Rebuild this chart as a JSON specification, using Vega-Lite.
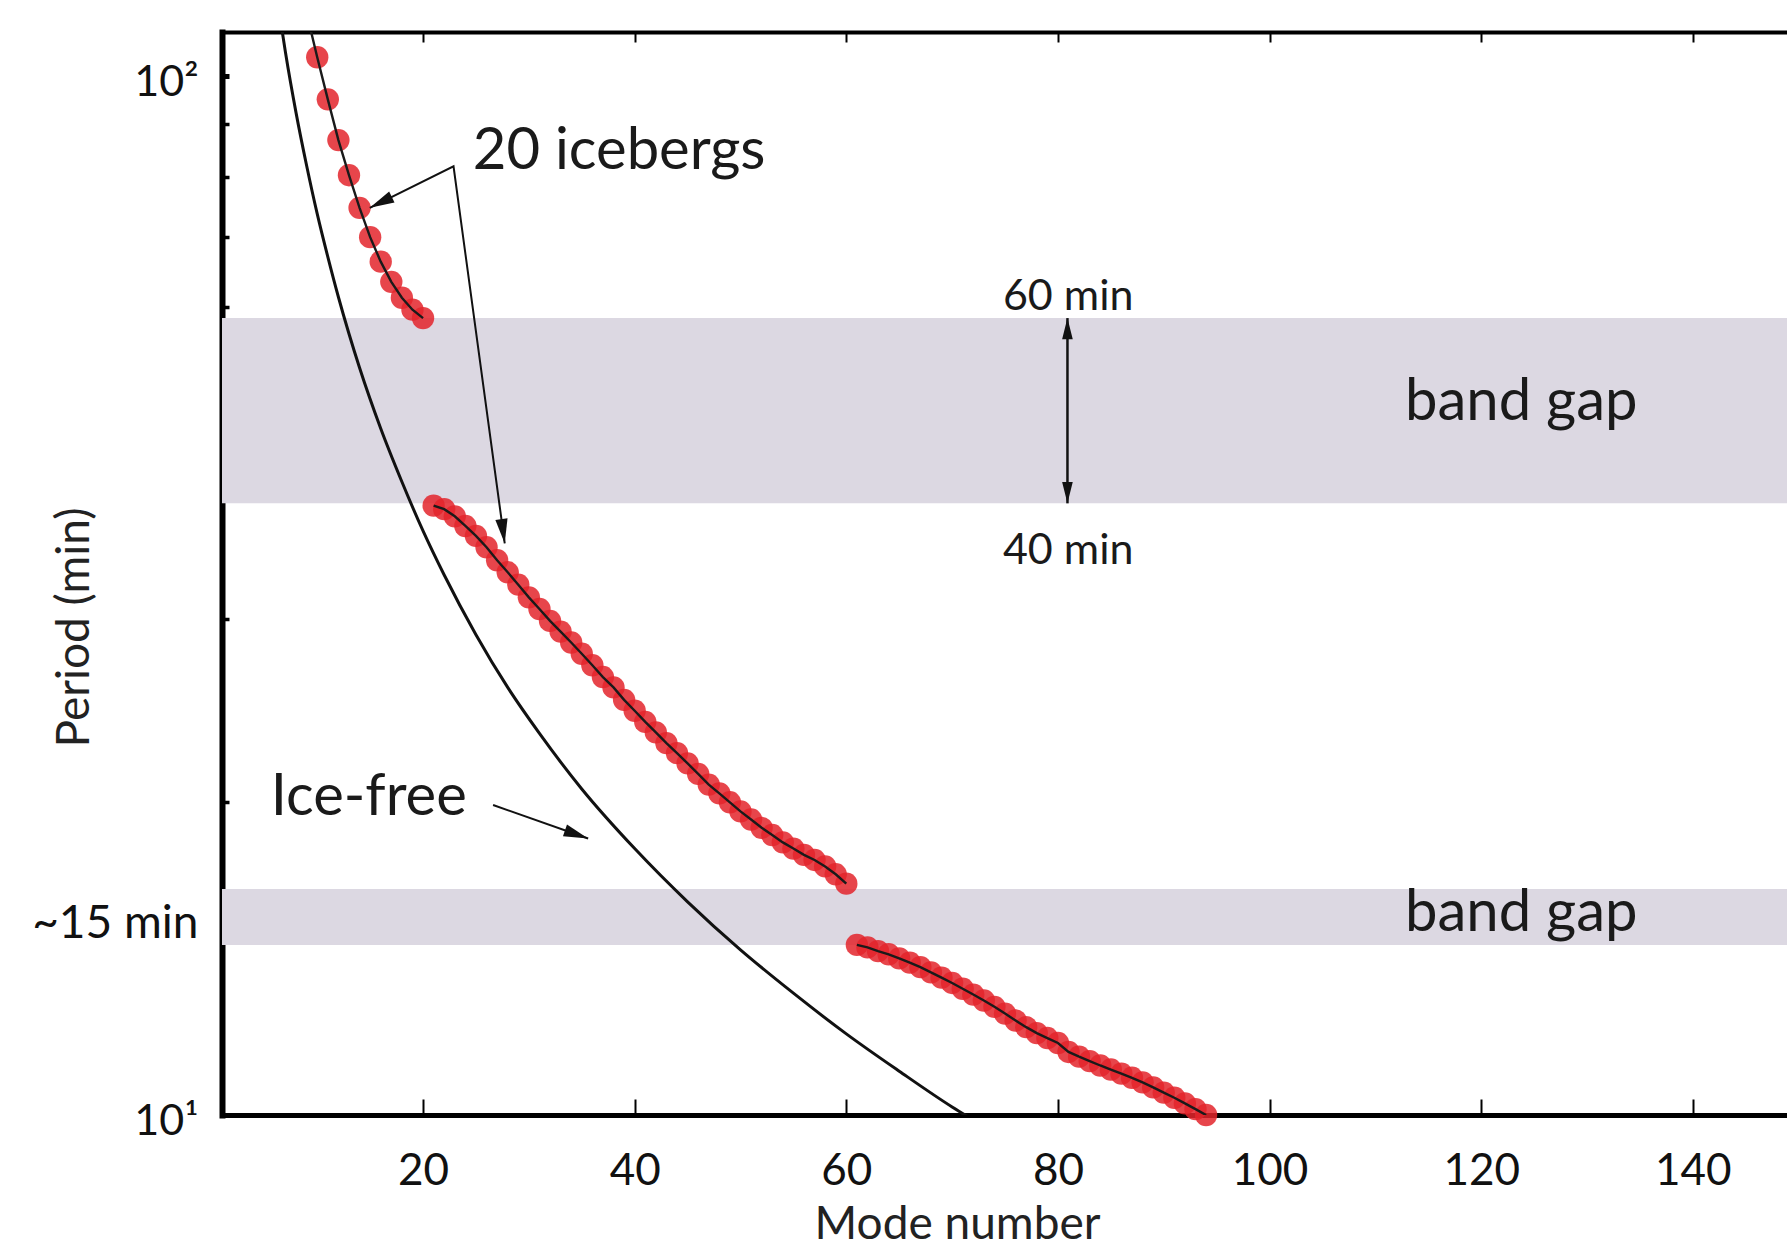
{
  "$schema": "https://vega.github.io/schema/vega-lite/v6.json",
  "width": 1565,
  "height": 1083,
  "autosize": {"type": "none"},
  "padding": {"left": 222, "top": 32, "right": 0, "bottom": 136},
  "background": "white",
  "config": {"view": {"stroke": null}, "font": "Lato"},
  "datasets": {
    "bands": [{"lo": 38.8, "hi": 58.5}, {"lo": 14.58, "hi": 16.5}],
    "icefree": [
      {"mode": 6.5, "period": 113.7}, {"mode": 7, "period": 105.4}, {"mode": 8, "period": 92.2},
      {"mode": 9, "period": 82.0}, {"mode": 10, "period": 73.7}, {"mode": 11, "period": 67.0},
      {"mode": 12, "period": 61.3}, {"mode": 13, "period": 56.5}, {"mode": 14, "period": 52.4},
      {"mode": 16, "period": 45.8}, {"mode": 18, "period": 40.7}, {"mode": 20, "period": 36.5},
      {"mode": 22, "period": 33.1}, {"mode": 25, "period": 29.0}, {"mode": 28, "period": 25.8},
      {"mode": 31, "period": 23.3}, {"mode": 35, "period": 20.6}, {"mode": 40, "period": 18.05},
      {"mode": 45, "period": 16.04}, {"mode": 50, "period": 14.42}, {"mode": 55, "period": 13.1},
      {"mode": 60, "period": 11.97}, {"mode": 65, "period": 11.02}, {"mode": 70, "period": 10.18},
      {"mode": 72, "period": 9.89}
    ],
    "modes": [
      {"mode": 9, "period": 115.0, "seg": "a"}, {"mode": 10, "period": 104.3, "seg": "a"},
      {"mode": 11, "period": 95.0, "seg": "a"}, {"mode": 12, "period": 86.8, "seg": "a"},
      {"mode": 13, "period": 80.3, "seg": "a"}, {"mode": 14, "period": 74.7, "seg": "a"},
      {"mode": 15, "period": 70.0, "seg": "a"}, {"mode": 16, "period": 66.3, "seg": "a"},
      {"mode": 17, "period": 63.4, "seg": "a"}, {"mode": 18, "period": 61.2, "seg": "a"},
      {"mode": 19, "period": 59.6, "seg": "a"}, {"mode": 20, "period": 58.5, "seg": "a"},
      {"mode": 21, "period": 38.6, "seg": "b"}, {"mode": 22, "period": 38.3, "seg": "b"},
      {"mode": 23, "period": 37.7, "seg": "b"}, {"mode": 24, "period": 36.9, "seg": "b"},
      {"mode": 25, "period": 36.1, "seg": "b"}, {"mode": 26, "period": 35.2, "seg": "b"},
      {"mode": 27, "period": 34.2, "seg": "b"}, {"mode": 28, "period": 33.3, "seg": "b"},
      {"mode": 29, "period": 32.4, "seg": "b"}, {"mode": 30, "period": 31.5, "seg": "b"},
      {"mode": 31, "period": 30.7, "seg": "b"}, {"mode": 32, "period": 29.9, "seg": "b"},
      {"mode": 33, "period": 29.2, "seg": "b"}, {"mode": 34, "period": 28.5, "seg": "b"},
      {"mode": 35, "period": 27.8, "seg": "b"}, {"mode": 36, "period": 27.1, "seg": "b"},
      {"mode": 37, "period": 26.4, "seg": "b"}, {"mode": 38, "period": 25.8, "seg": "b"},
      {"mode": 39, "period": 25.1, "seg": "b"}, {"mode": 40, "period": 24.5, "seg": "b"},
      {"mode": 41, "period": 23.9, "seg": "b"}, {"mode": 42, "period": 23.35, "seg": "b"},
      {"mode": 43, "period": 22.8, "seg": "b"}, {"mode": 44, "period": 22.3, "seg": "b"},
      {"mode": 45, "period": 21.8, "seg": "b"}, {"mode": 46, "period": 21.3, "seg": "b"},
      {"mode": 47, "period": 20.8, "seg": "b"}, {"mode": 48, "period": 20.4, "seg": "b"},
      {"mode": 49, "period": 20.0, "seg": "b"}, {"mode": 50, "period": 19.6, "seg": "b"},
      {"mode": 51, "period": 19.25, "seg": "b"}, {"mode": 52, "period": 18.9, "seg": "b"},
      {"mode": 53, "period": 18.6, "seg": "b"}, {"mode": 54, "period": 18.3, "seg": "b"},
      {"mode": 55, "period": 18.05, "seg": "b"}, {"mode": 56, "period": 17.8, "seg": "b"},
      {"mode": 57, "period": 17.6, "seg": "b"}, {"mode": 58, "period": 17.35, "seg": "b"},
      {"mode": 59, "period": 17.05, "seg": "b"}, {"mode": 60, "period": 16.7, "seg": "b"},
      {"mode": 61, "period": 14.58, "seg": "c"}, {"mode": 62, "period": 14.5, "seg": "c"},
      {"mode": 63, "period": 14.38, "seg": "c"}, {"mode": 64, "period": 14.28, "seg": "c"},
      {"mode": 65, "period": 14.15, "seg": "c"}, {"mode": 66, "period": 14.02, "seg": "c"},
      {"mode": 67, "period": 13.88, "seg": "c"}, {"mode": 68, "period": 13.72, "seg": "c"},
      {"mode": 69, "period": 13.56, "seg": "c"}, {"mode": 70, "period": 13.4, "seg": "c"},
      {"mode": 71, "period": 13.23, "seg": "c"}, {"mode": 72, "period": 13.06, "seg": "c"},
      {"mode": 73, "period": 12.89, "seg": "c"}, {"mode": 74, "period": 12.71, "seg": "c"},
      {"mode": 75, "period": 12.52, "seg": "c"}, {"mode": 76, "period": 12.33, "seg": "c"},
      {"mode": 77, "period": 12.15, "seg": "c"}, {"mode": 78, "period": 11.99, "seg": "c"},
      {"mode": 79, "period": 11.86, "seg": "c"}, {"mode": 80, "period": 11.73, "seg": "c"},
      {"mode": 81, "period": 11.5, "seg": "c"}, {"mode": 82, "period": 11.38, "seg": "c"},
      {"mode": 83, "period": 11.27, "seg": "c"}, {"mode": 84, "period": 11.16, "seg": "c"},
      {"mode": 85, "period": 11.06, "seg": "c"}, {"mode": 86, "period": 10.96, "seg": "c"},
      {"mode": 87, "period": 10.86, "seg": "c"}, {"mode": 88, "period": 10.75, "seg": "c"},
      {"mode": 89, "period": 10.63, "seg": "c"}, {"mode": 90, "period": 10.51, "seg": "c"},
      {"mode": 91, "period": 10.39, "seg": "c"}, {"mode": 92, "period": 10.26, "seg": "c"},
      {"mode": 93, "period": 10.13, "seg": "c"}, {"mode": 94, "period": 10.0, "seg": "c"}
    ],
    "bigText": [
      {"x": 24.7, "y": 81.4, "text": "20 icebergs"},
      {"x": 5.6, "y": 19.44, "text": "Ice-free"},
      {"x": 112.8, "y": 46.7, "text": "band gap"},
      {"x": 112.8, "y": 15.03, "text": "band gap"}
    ],
    "smallText": [
      {"x": 74.8, "y": 59.5, "text": "60 min"},
      {"x": 74.8, "y": 33.9, "text": "40 min"}
    ],
    "bergArrow": [
      {"x": 14.97, "y": 74.7, "order": 1},
      {"x": 22.88, "y": 81.9, "order": 2},
      {"x": 27.72, "y": 35.5, "order": 3}
    ],
    "iceArrow": [
      {"x": 26.62, "y": 19.88, "order": 1},
      {"x": 35.6, "y": 18.46, "order": 2}
    ],
    "gapArrow": [{"x": 80.9, "lo": 38.8, "hi": 58.5}]
  },
  "layer": [
    {
      "data": {"name": "bands"},
      "mark": {"type": "rect", "color": "#dcd8e2"},
      "encoding": {
        "y": {
          "field": "lo", "type": "quantitative",
          "scale": {"type": "log", "domain": [10, 110.3], "nice": false},
          "axis": {
            "orient": "left",
            "values": [10, 15.5, 20, 30, 40, 50, 60, 70, 80, 90, 100],
            "labelExpr": "datum.value == 10 ? '10¹' : datum.value == 100 ? '10²' : datum.value == 15.5 ? '~15 min' : ''",
            "title": "Period (min)",
            "grid": false,
            "domain": true, "domainColor": "black", "domainWidth": 6, "domainCap": "square",
            "ticks": true, "tickColor": "black", "tickSize": -7,
            "tickWidth": {"condition": {"test": "datum.value == 100", "value": 5}, "value": 3.5},
            "tickOpacity": {"condition": {"test": "datum.value == 15.5 || datum.value == 10", "value": 0}, "value": 1},
            "labelFont": "Lato",
            "labelFontSize": {"condition": {"test": "datum.value == 15.5", "value": 46}, "value": 43},
            "labelColor": "#111111",
            "labelPadding": 31,
            "labelOverlap": false, "labelBound": false, "labelFlush": false,
            "labelBaseline": "middle", "labelOffset": 6,
            "titleFont": "Lato", "titleFontSize": 46, "titleFontWeight": "normal", "titleColor": "#222222",
            "titleX": -134, "titleY": 595, "titleBaseline": "alphabetic", "titleAlign": "center", "titleAngle": -90
          }
        },
        "y2": {"field": "hi"}
      }
    },
    {
      "data": {"name": "icefree"},
      "mark": {"type": "line", "color": "#111111", "strokeWidth": 3, "clip": true, "interpolate": "monotone"},
      "encoding": {
        "x": {
          "field": "mode", "type": "quantitative",
          "scale": {"domain": [1, 148.9], "nice": false, "zero": false},
          "axis": {
            "orient": "bottom",
            "values": [20, 40, 60, 80, 100, 120, 140],
            "format": "d",
            "grid": false,
            "domainColor": "black", "domainWidth": 5, "domainCap": "square",
            "tickColor": "black", "tickSize": -16, "tickWidth": 2,
            "labelFont": "Lato", "labelFontSize": 44, "labelColor": "#111111",
            "labelPadding": 50, "labelBaseline": "top", "labelFlush": false,
            "title": "Mode number",
            "titleFont": "Lato", "titleFontSize": 46, "titleFontWeight": "normal", "titleColor": "#222222",
            "titleX": 735, "titleY": 123, "titleBaseline": "alphabetic", "titleAlign": "center"
          }
        },
        "y": {"field": "period", "type": "quantitative", "scale": {"type": "log", "domain": [10, 110.3], "nice": false}, "axis": null}
      }
    },
    {
      "data": {"name": "modes"},
      "transform": [{"filter": "datum.mode >= 10"}],
      "mark": {"type": "circle", "color": "#e3242b", "opacity": 0.85, "size": 500},
      "encoding": {
        "x": {"field": "mode", "type": "quantitative", "axis": null},
        "y": {"field": "period", "type": "quantitative", "axis": null}
      }
    },
    {
      "data": {"name": "modes"},
      "mark": {"type": "line", "color": "#1a1a1a", "strokeWidth": 2.4, "clip": true},
      "encoding": {
        "x": {
          "field": "mode", "type": "quantitative",
          "axis": {
            "orient": "top",
            "values": [20, 40, 60, 80, 100, 120, 140],
            "labels": false, "title": null, "grid": false,
            "domainColor": "black", "domainWidth": 4, "domainCap": "square",
            "tickColor": "black", "tickSize": -10, "tickWidth": 2
          }
        },
        "y": {"field": "period", "type": "quantitative", "axis": null},
        "detail": {"field": "seg"}
      }
    },
    {
      "data": {"name": "bergArrow"},
      "mark": {"type": "line", "color": "#111111", "strokeWidth": 2},
      "encoding": {
        "x": {"field": "x", "type": "quantitative", "axis": null},
        "y": {"field": "y", "type": "quantitative", "axis": null},
        "order": {"field": "order"}
      }
    },
    {
      "data": {"name": "iceArrow"},
      "mark": {"type": "line", "color": "#111111", "strokeWidth": 2},
      "encoding": {
        "x": {"field": "x", "type": "quantitative", "axis": null},
        "y": {"field": "y", "type": "quantitative", "axis": null},
        "order": {"field": "order"}
      }
    },
    {
      "data": {"name": "gapArrow"},
      "mark": {"type": "rule", "color": "#111111", "strokeWidth": 2.5},
      "encoding": {
        "x": {"field": "x", "type": "quantitative", "axis": null},
        "y": {"field": "lo", "type": "quantitative", "axis": null},
        "y2": {"field": "hi"}
      }
    },
    {
      "data": {"values": [{"x": 14.97, "y": 74.7}]},
      "mark": {"type": "point", "shape": "M0,0L-0.5,2L0.5,2Z", "filled": true, "color": "#111111", "opacity": 1, "size": 600, "angle": 244},
      "encoding": {
        "x": {"field": "x", "type": "quantitative", "axis": null},
        "y": {"field": "y", "type": "quantitative", "axis": null}
      }
    },
    {
      "data": {"values": [{"x": 27.72, "y": 35.5}]},
      "mark": {"type": "point", "shape": "M0,0L-0.5,2L0.5,2Z", "filled": true, "color": "#111111", "opacity": 1, "size": 600, "angle": 172.3},
      "encoding": {
        "x": {"field": "x", "type": "quantitative", "axis": null},
        "y": {"field": "y", "type": "quantitative", "axis": null}
      }
    },
    {
      "data": {"values": [{"x": 35.6, "y": 18.46}]},
      "mark": {"type": "point", "shape": "M0,0L-0.5,2L0.5,2Z", "filled": true, "color": "#111111", "opacity": 1, "size": 600, "angle": 109.2},
      "encoding": {
        "x": {"field": "x", "type": "quantitative", "axis": null},
        "y": {"field": "y", "type": "quantitative", "axis": null}
      }
    },
    {
      "data": {"values": [{"x": 80.9, "y": 58.5}]},
      "mark": {"type": "point", "shape": "M0,0L-0.5,2L0.5,2Z", "filled": true, "color": "#111111", "opacity": 1, "size": 450, "angle": 0},
      "encoding": {
        "x": {"field": "x", "type": "quantitative", "axis": null},
        "y": {"field": "y", "type": "quantitative", "axis": null}
      }
    },
    {
      "data": {"values": [{"x": 80.9, "y": 38.8}]},
      "mark": {"type": "point", "shape": "M0,0L-0.5,2L0.5,2Z", "filled": true, "color": "#111111", "opacity": 1, "size": 450, "angle": 180},
      "encoding": {
        "x": {"field": "x", "type": "quantitative", "axis": null},
        "y": {"field": "y", "type": "quantitative", "axis": null}
      }
    },
    {
      "data": {"name": "bigText"},
      "mark": {"type": "text", "font": "Lato", "fontSize": 58, "align": "left", "baseline": "alphabetic", "color": "#1a1a1a"},
      "encoding": {
        "x": {"field": "x", "type": "quantitative", "axis": null},
        "y": {"field": "y", "type": "quantitative", "axis": null},
        "text": {"field": "text"}
      }
    },
    {
      "data": {"name": "smallText"},
      "mark": {"type": "text", "font": "Lato", "fontSize": 43, "align": "left", "baseline": "alphabetic", "color": "#1a1a1a"},
      "encoding": {
        "x": {"field": "x", "type": "quantitative", "axis": null},
        "y": {"field": "y", "type": "quantitative", "axis": null},
        "text": {"field": "text"}
      }
    }
  ],
  "resolve": {"axis": {"x": "independent", "y": "independent"}}
}
